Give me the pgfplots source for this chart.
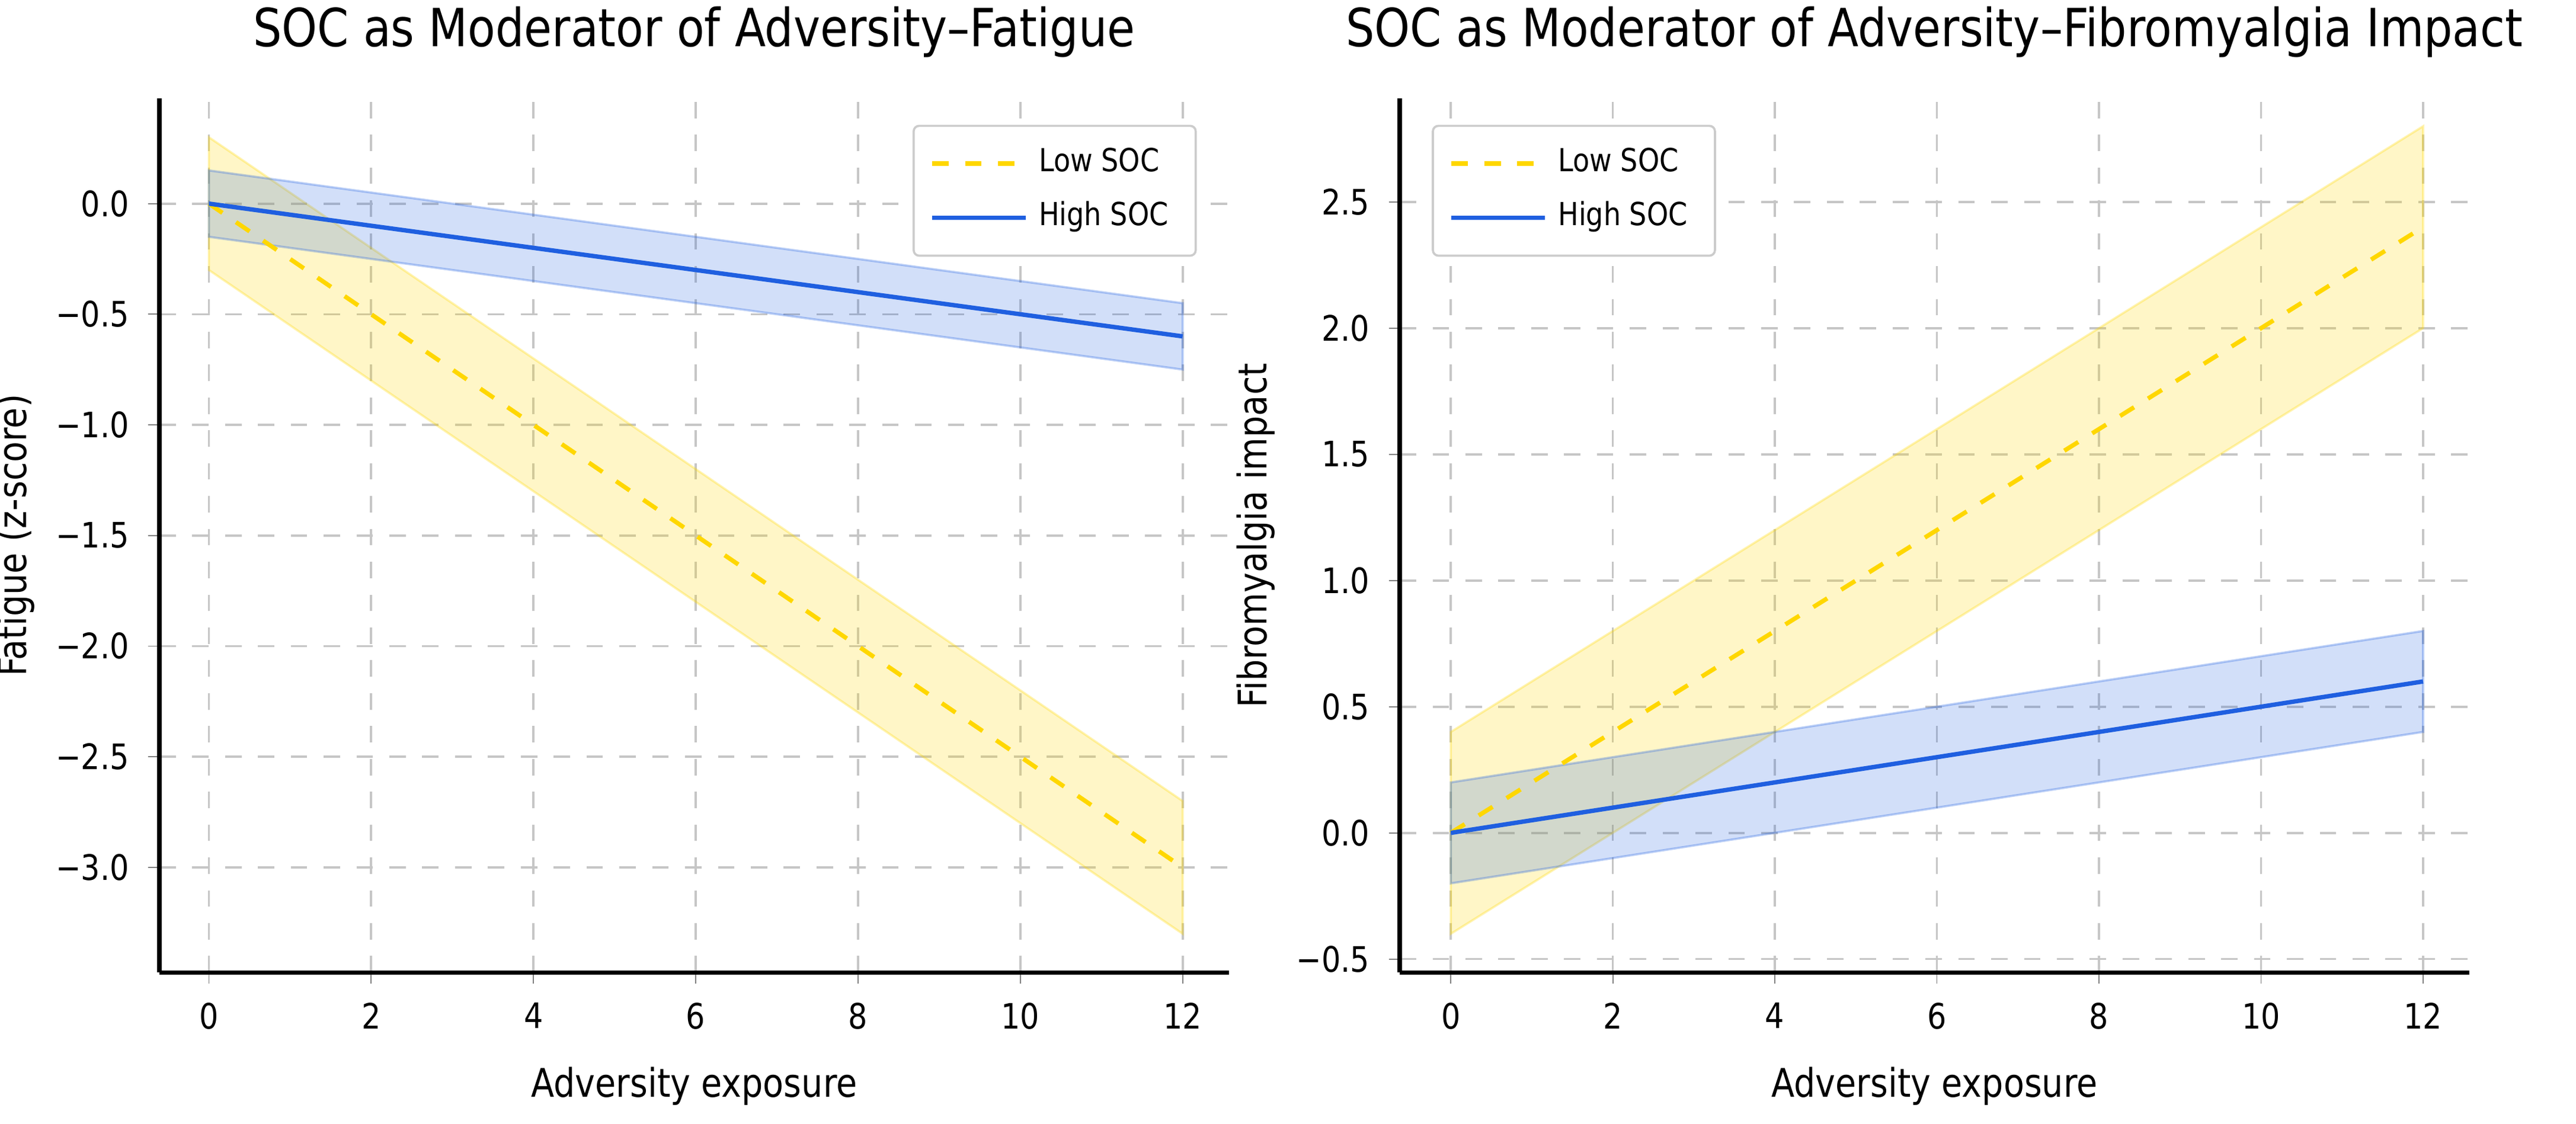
\documentclass[border=0pt]{standalone}
\usepackage{pgfplots}
\pgfplotsset{compat=1.18}
\usepackage{fontspec}
\setmainfont[FakeStretch=0.86]{DejaVu Sans}
\definecolor{lowc}{HTML}{FFD700}
\definecolor{highc}{HTML}{1F5FE0}
\begin{document}
\begin{tikzpicture}
\path[use as bounding box] (0,0) rectangle (470.4pt,205.2pt);
\pgfplotsset{every axis/.append style={
  scale only axis, width=195.3pt, height=159.6pt, anchor=south west,
  axis lines=left, axis line style={-, thick},
  /pgf/number format/assume math mode=true,
  grid=major, grid style={dashed, gray!45},
  tick label style={font=\fontsize{6.4}{7}\selectfont},
  label style={font=\fontsize{7.2}{8}\selectfont},
  ylabel style={yshift=-3pt},
  title style={font=\fontsize{9.6}{11}\selectfont, yshift=-2pt},
  xtick={0,2,...,12},
  tick align=outside, major tick length=2pt,
  legend style={font=\fontsize{5.8}{7}\selectfont, draw=gray!40, rounded corners=1pt, cells={anchor=west}},
  legend cell align=left,
  xlabel={Adversity exposure},
}}
\begin{axis}[at={(29.1pt,27.6pt)},
  xmin=-0.61, xmax=12.57, ymin=-3.475, ymax=0.475,
  ytick={-3,-2.5,-2,-1.5,-1,-0.5,0},
  yticklabels={−3.0,−2.5,−2.0,−1.5,−1.0,−0.5,0.0},
  ylabel={Fatigue (z-score)},
  title={SOC as Moderator of Adversity–Fatigue},
  legend pos=north east]
\addplot[fill=lowc, fill opacity=0.22, draw=lowc, draw opacity=0.3, forget plot] coordinates {(0,0.3)(12,-2.7)(12,-3.3)(0,-0.3)} -- cycle;
\addplot[fill=highc, fill opacity=0.2, draw=highc, draw opacity=0.3, forget plot] coordinates {(0,0.15)(12,-0.45)(12,-0.75)(0,-0.15)} -- cycle;
\addplot[lowc, thick, dashed, no marks] coordinates {(0,0)(12,-3)};
\addlegendentry{Low SOC}
\addplot[highc, thick, no marks] coordinates {(0,0)(12,-0.6)};
\addlegendentry{High SOC}
\end{axis}
\begin{axis}[at={(255.6pt,27.6pt)},
  xmin=-0.63, xmax=12.57, ymin=-0.553, ymax=2.91,
  ytick={-0.5,0,0.5,1,1.5,2,2.5},
  yticklabels={−0.5,0.0,0.5,1.0,1.5,2.0,2.5},
  ylabel={Fibromyalgia impact},
  title={SOC as Moderator of Adversity–Fibromyalgia Impact},
  legend pos=north west]
\addplot[fill=lowc, fill opacity=0.22, draw=lowc, draw opacity=0.3, forget plot] coordinates {(0,0.4)(12,2.8)(12,2.0)(0,-0.4)} -- cycle;
\addplot[fill=highc, fill opacity=0.2, draw=highc, draw opacity=0.3, forget plot] coordinates {(0,0.2)(12,0.8)(12,0.4)(0,-0.2)} -- cycle;
\addplot[lowc, thick, dashed, no marks] coordinates {(0,0)(12,2.4)};
\addlegendentry{Low SOC}
\addplot[highc, thick, no marks] coordinates {(0,0)(12,0.6)};
\addlegendentry{High SOC}
\end{axis}
\end{tikzpicture}
\end{document}
